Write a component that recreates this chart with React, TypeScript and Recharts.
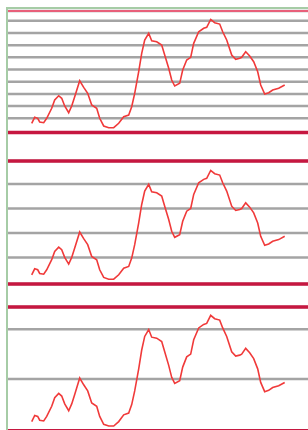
import React from 'react';
import { LineChart, Line, XAxis, YAxis, CartesianGrid, ReferenceLine } from 'recharts';

// sample positions along the run and the measured level at each one
const steps = [
  0, 3, 6, 8, 12, 15, 20, 23, 27, 30, 33, 37, 40, 43, 48, 52, 56, 60, 65, 68,
  72, 77, 82, 87, 92, 97, 100, 103, 107, 110, 113, 117, 120, 125, 130, 133, 137, 140, 143, 148,
  151, 155, 159, 162, 167, 172, 175, 179, 183, 188, 191, 195, 200, 204, 208, 210, 214, 218, 222, 226,
  229, 233, 237, 241, 247, 253,
];
const levels = [
  0.59, 1.08, 1.0, 0.7, 0.64, 1.0, 1.82, 2.5, 2.85, 2.64, 2.01, 1.46, 2.01, 2.77, 4.08, 3.54, 3.05, 2.09, 1.82, 1.0,
  0.37, 0.23, 0.23, 0.59, 1.13, 1.27, 1.95, 3.05, 4.82, 6.33, 7.42, 7.97, 7.36, 7.28, 7.01, 6.19, 5.1, 4.14, 3.65, 3.87,
  4.96, 5.78, 6.0, 7.15, 8.1, 8.38, 8.46, 9.11, 8.84, 8.73, 8.1, 7.42, 6.19, 5.84, 5.92, 6.0, 6.46, 6.11, 5.64, 4.82,
  3.73, 2.99, 3.1, 3.32, 3.46, 3.73,
];

// grid steps for the three panels: 1, 2 and 4
const gridA = [1, 2, 3, 4, 5, 6, 7, 8, 9];
const gridB = [2, 4, 6, 8];
const gridC = [4, 8];

const data = steps.map((s, i) => ({ s, v: levels[i] }));

const CHART_W = 340;
const M = { top: 4, right: 0, bottom: 4, left: 8 };

type PanelProps = {
  plotTop: number;
  plotBottom: number;
  domain: [number, number];
  grid: number[];
  topColor: string;
  topWidth: number;
};

const Panel = ({ plotTop, plotBottom, domain, grid, topColor, topWidth }: PanelProps) => {
  const h = plotBottom - plotTop + M.top + M.bottom;
  return (
    <div style={{ position: 'absolute', left: 0, top: plotTop - M.top }}>
      <LineChart width={CHART_W} height={h} data={data} margin={M}>
        <XAxis dataKey="s" type="number" domain={[-23.7, 308.3]} allowDataOverflow hide />
        <YAxis type="number" domain={domain} ticks={grid} interval={0} allowDataOverflow hide />
        <CartesianGrid vertical={false} stroke="#a4a4a4" strokeWidth={2.5} />
        <ReferenceLine y={domain[1]} stroke={topColor} strokeWidth={topWidth} />
        <ReferenceLine y={domain[0]} stroke="#c61740" strokeWidth={3.5} />
        <Line
          type="linear"
          dataKey="v"
          stroke="#f03a3a"
          strokeWidth={1.6}
          dot={false}
          isAnimationActive={false}
        />
      </LineChart>
    </div>
  );
};

export default function App() {
  return (
    <div style={{ position: 'relative', width: 308, height: 430, overflow: 'hidden', background: '#fff' }}>
      <style>{'body{margin:0}'}</style>
      <Panel plotTop={11} plotBottom={132.5} domain={[-0.164, 9.8]} grid={gridA} topColor="#e8607a" topWidth={2} />
      <Panel plotTop={160.5} plotBottom={283.5} domain={[-0.163, 9.878]} grid={gridB} topColor="#c61740" topWidth={3.5} />
      <Panel plotTop={307.3} plotBottom={431} domain={[-0.14, 9.78]} grid={gridC} topColor="#c61740" topWidth={3.5} />
      <div
        style={{
          position: 'absolute',
          zIndex: 10,
          left: 6,
          top: 7,
          width: 310,
          height: 430,
          borderLeft: '2px solid #a6cca6',
          borderTop: '2px solid #a6cca6',
        }}
      />
    </div>
  );
}
